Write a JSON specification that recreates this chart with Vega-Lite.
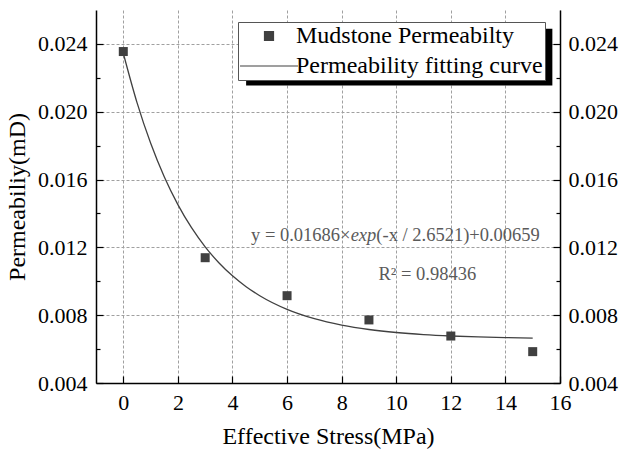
{
  "$schema": "https://vega.github.io/schema/vega-lite/v6.json",
  "width": 464,
  "height": 373,
  "autosize": {"type": "none"},
  "padding": {"left": 96, "top": 10, "right": 62, "bottom": 71},
  "background": "white",
  "config": {
    "view": {"stroke": null},
    "font": "Liberation Serif",
    "style": {
      "guide-label": {"font": "Liberation Serif", "fill": "black"},
      "guide-title": {"font": "Liberation Serif", "fill": "black", "fontWeight": "normal"}
    },
    "axis": {
      "domainColor": "black", "domainWidth": 1.5,
      "labelFont": "Liberation Serif", "labelFontSize": 22, "labelColor": "black",
      "titleFont": "Liberation Serif", "titleFontSize": 24, "titleFontWeight": "normal", "titleColor": "black",
      "tickColor": "black", "tickWidth": 1.2,
      "gridColor": "#a0a0a0", "gridDash": [3, 2], "gridWidth": 1,
      "labelOverlap": false, "labelFlush": false
    },
    "legend": {
      "orient": "none", "legendX": 142, "legendY": 12,
      "strokeColor": "#555555", "fillColor": "white", "padding": 2,
      "labelFont": "Liberation Serif", "labelFontSize": 24, "labelColor": "black", "labelLimit": 0,
      "symbolSize": 81, "symbolOffset": 17, "labelOffset": 15, "rowPadding": 6,
      "symbolStrokeColor": "#404040", "symbolStrokeWidth": 1.2
    }
  },
  "datasets": {
    "measured": [
      {"stress": 0, "perm": 0.02355, "series": "Mudstone Permeabilty"},
      {"stress": 3, "perm": 0.01139, "series": "Mudstone Permeabilty"},
      {"stress": 6, "perm": 0.00915, "series": "Mudstone Permeabilty"},
      {"stress": 9, "perm": 0.00772, "series": "Mudstone Permeabilty"},
      {"stress": 12, "perm": 0.00677, "series": "Mudstone Permeabilty"},
      {"stress": 15, "perm": 0.00585, "series": "Mudstone Permeabilty"}
    ],
    "curve": [
      {"stress": 0, "perm": 0.02345, "series": "Permeability fitting curve"},
      {"stress": 0.5, "perm": 0.020553, "series": "Permeability fitting curve"},
      {"stress": 1, "perm": 0.018154, "series": "Permeability fitting curve"},
      {"stress": 1.5, "perm": 0.016167, "series": "Permeability fitting curve"},
      {"stress": 2, "perm": 0.014522, "series": "Permeability fitting curve"},
      {"stress": 2.5, "perm": 0.013159, "series": "Permeability fitting curve"},
      {"stress": 3, "perm": 0.01203, "series": "Permeability fitting curve"},
      {"stress": 3.5, "perm": 0.011095, "series": "Permeability fitting curve"},
      {"stress": 4, "perm": 0.010321, "series": "Permeability fitting curve"},
      {"stress": 4.5, "perm": 0.00968, "series": "Permeability fitting curve"},
      {"stress": 5, "perm": 0.009149, "series": "Permeability fitting curve"},
      {"stress": 6, "perm": 0.008345, "series": "Permeability fitting curve"},
      {"stress": 7, "perm": 0.007794, "series": "Permeability fitting curve"},
      {"stress": 8, "perm": 0.007416, "series": "Permeability fitting curve"},
      {"stress": 9, "perm": 0.007156, "series": "Permeability fitting curve"},
      {"stress": 10, "perm": 0.006978, "series": "Permeability fitting curve"},
      {"stress": 11, "perm": 0.006856, "series": "Permeability fitting curve"},
      {"stress": 12, "perm": 0.006773, "series": "Permeability fitting curve"},
      {"stress": 13, "perm": 0.006715, "series": "Permeability fitting curve"},
      {"stress": 14, "perm": 0.006676, "series": "Permeability fitting curve"},
      {"stress": 15, "perm": 0.006649, "series": "Permeability fitting curve"}
    ],
    "notes": [
      {"stress": 4.68, "perm": 0.01272, "label": "y = 0.01686×"},
      {"stress": 9.27, "perm": 0.01272, "label": "(-x / 2.6521)+0.00659"},
      {"stress": 9.35, "perm": 0.01045, "label": "R² = 0.98436"}
    ],
    "notesItalic": [
      {"stress": 8.33, "perm": 0.01272, "label": "exp"}
    ]
  },
  "layer": [
    {
      "data": {"values": [{}]},
      "mark": {"type": "rect", "fill": "black", "opacity": 1},
      "encoding": {
        "x": {"datum": 4.5, "type": "quantitative", "scale": {"domain": [-1, 16], "nice": false}},
        "x2": {"datum": 15.72},
        "y": {"datum": 0.0249, "type": "quantitative", "scale": {"domain": [0.004, 0.026], "nice": false, "zero": false}, "axis": null},
        "y2": {"datum": 0.02155}
      }
    },
    {
      "data": {"name": "curve"},
      "mark": {"type": "line", "interpolate": "monotone", "strokeWidth": 1.3},
      "encoding": {
        "x": {"field": "stress", "type": "quantitative", "scale": {"domain": [-1, 16], "nice": false}},
        "y": {"field": "perm", "type": "quantitative", "scale": {"domain": [0.004, 0.026], "nice": false, "zero": false}, "axis": null},
        "color": {"field": "series", "type": "nominal", "title": null,
          "scale": {"domain": ["Mudstone Permeabilty", "Permeability fitting curve"], "range": ["#404040", "#404040"]}}
      }
    },
    {
      "data": {"name": "measured"},
      "mark": {"type": "point", "filled": true, "opacity": 1, "size": 81},
      "encoding": {
        "x": {"field": "stress", "type": "quantitative", "scale": {"domain": [-1, 16], "nice": false},
          "axis": {"title": "Effective Stress(MPa)", "values": [0,1,2,3,4,5,6,7,8,9,10,11,12,13,14,15,16],
            "labelFont": "Liberation Serif", "titleFont": "Liberation Serif",
            "labelExpr": "datum.value % 2 === 0 ? datum.label : ''",
            "tickSize": {"condition": {"test": "datum.value % 2 === 0", "value": -7}, "value": -4},
            "gridOpacity": {"condition": {"test": "datum.value % 2 === 0", "value": 1}, "value": 0},
            "labelPadding": 16, "titlePadding": 11, "grid": true}},
        "y": {"field": "perm", "type": "quantitative", "scale": {"domain": [0.004, 0.026], "nice": false, "zero": false},
          "axis": {"title": "Permeabiliy(mD)", "orient": "left",
            "labelFont": "Liberation Serif", "titleFont": "Liberation Serif",
            "values": [0.004,0.006,0.008,0.01,0.012,0.014,0.016,0.018,0.02,0.022,0.024],
            "labelExpr": "round(datum.value*1000) % 4 === 0 ? format(datum.value, '.3f') : ''",
            "tickSize": {"condition": {"test": "round(datum.value*1000) % 4 === 0", "value": -7}, "value": -4},
            "gridOpacity": {"condition": {"test": "round(datum.value*1000) % 4 === 0", "value": 1}, "value": 0},
            "labelPadding": 16, "titlePadding": 8, "grid": true}},
        "color": {"field": "series", "type": "nominal", "title": null,
          "legend": {"labelFont": "Liberation Serif", "labelLimit": 0},
          "scale": {"domain": ["Mudstone Permeabilty", "Permeability fitting curve"], "range": ["#404040", "#404040"]}},
        "shape": {"field": "series", "type": "nominal", "title": null,
          "legend": {"labelFont": "Liberation Serif", "labelLimit": 0},
          "scale": {"domain": ["Mudstone Permeabilty", "Permeability fitting curve"], "range": ["square", "M-6.44,0H6.44"]}}
      }
    },
    {
      "data": {"name": "measured"},
      "mark": {"type": "point", "opacity": 0},
      "encoding": {
        "y": {"field": "perm", "type": "quantitative", "scale": {"domain": [0.004, 0.026], "nice": false, "zero": false},
          "axis": {"title": null, "orient": "right", "grid": false,
            "labelFont": "Liberation Serif",
            "values": [0.004,0.006,0.008,0.01,0.012,0.014,0.016,0.018,0.02,0.022,0.024],
            "labelExpr": "round(datum.value*1000) % 4 === 0 ? format(datum.value, '.3f') : ''",
            "tickSize": {"condition": {"test": "round(datum.value*1000) % 4 === 0", "value": -7}, "value": -4},
            "labelPadding": 15}}
      }
    },
    {
      "data": {"name": "notes"},
      "mark": {"type": "text", "align": "left", "baseline": "middle", "font": "Liberation Serif", "fontSize": 18.5, "color": "#5a5a5a"},
      "encoding": {
        "x": {"field": "stress", "type": "quantitative", "scale": {"domain": [-1, 16], "nice": false}},
        "y": {"field": "perm", "type": "quantitative", "scale": {"domain": [0.004, 0.026], "nice": false, "zero": false}, "axis": null},
        "text": {"field": "label"}
      }
    },
    {
      "data": {"name": "notesItalic"},
      "mark": {"type": "text", "align": "left", "baseline": "middle", "font": "Liberation Serif", "fontStyle": "italic", "fontSize": 18.5, "color": "#5a5a5a"},
      "encoding": {
        "x": {"field": "stress", "type": "quantitative", "scale": {"domain": [-1, 16], "nice": false}},
        "y": {"field": "perm", "type": "quantitative", "scale": {"domain": [0.004, 0.026], "nice": false, "zero": false}, "axis": null},
        "text": {"field": "label"}
      }
    }
  ],
  "resolve": {"axis": {"y": "independent"}}
}
